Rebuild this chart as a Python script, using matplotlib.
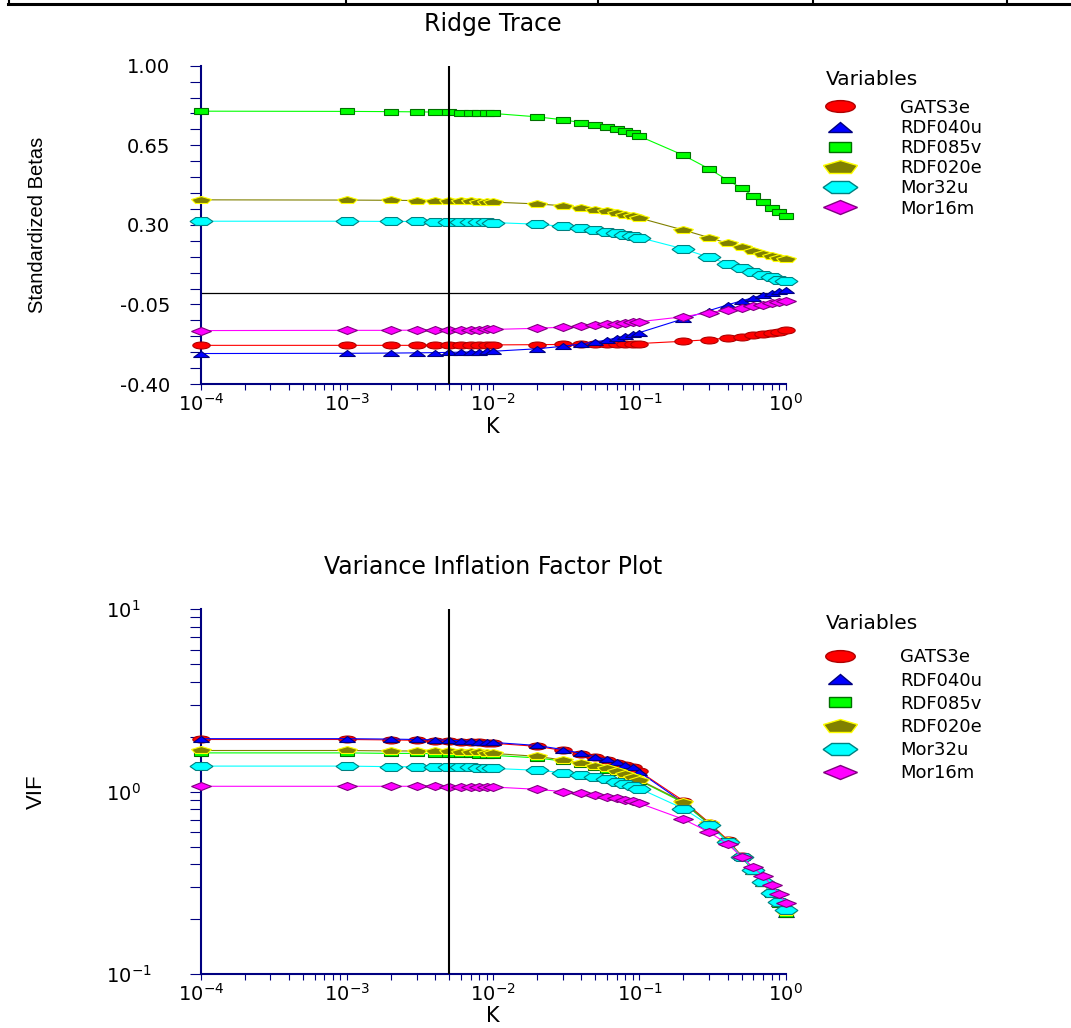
import matplotlib
matplotlib.use("Agg")
import matplotlib.pyplot as plt
from matplotlib.markers import MarkerStyle
from matplotlib.transforms import Affine2D
from matplotlib.lines import Line2D
from matplotlib.ticker import FixedLocator, LogLocator, NullFormatter

plt.rcParams['font.family'] = ['DejaVu Sans']

# Ridge parameter values
k = [0.0001, 0.001, 0.002, 0.003, 0.004, 0.005, 0.006, 0.007, 0.008, 0.009,
     0.01, 0.02, 0.03, 0.04, 0.05, 0.06, 0.07, 0.08, 0.09,
     0.1, 0.2, 0.3, 0.4, 0.5, 0.6, 0.7, 0.8, 0.9, 1.0]
k_chosen = 0.005

variables = ['GATS3e', 'RDF040u', 'RDF085v', 'RDF020e', 'Mor32u', 'Mor16m']

# Standardized betas
beta_gats3e = [-0.230, -0.230, -0.230, -0.230, -0.229, -0.229, -0.229, -0.229, -0.228, -0.228,
               -0.228, -0.227, -0.226, -0.225, -0.225, -0.224, -0.224, -0.223, -0.223,
               -0.222, -0.212, -0.205, -0.197, -0.192, -0.186, -0.180, -0.176, -0.170, -0.164]
beta_rdf040u = [-0.266, -0.265, -0.264, -0.263, -0.262, -0.261, -0.260, -0.259, -0.258, -0.257,
                -0.256, -0.245, -0.234, -0.224, -0.215, -0.206, -0.197, -0.189, -0.181,
                -0.174, -0.113, -0.077, -0.052, -0.034, -0.020, -0.008, 0.001, 0.008, 0.014]
beta_rdf085v = [0.800, 0.799, 0.798, 0.797, 0.796, 0.795, 0.794, 0.793, 0.792, 0.791,
                0.790, 0.775, 0.762, 0.750, 0.739, 0.729, 0.720, 0.711, 0.703,
                0.690, 0.606, 0.546, 0.497, 0.461, 0.427, 0.400, 0.376, 0.356, 0.339]
beta_rdf020e = [0.410, 0.409, 0.408, 0.407, 0.406, 0.405, 0.404, 0.403, 0.402, 0.401,
                0.400, 0.392, 0.384, 0.375, 0.367, 0.359, 0.352, 0.345, 0.338,
                0.330, 0.277, 0.244, 0.219, 0.201, 0.186, 0.173, 0.164, 0.156, 0.149]
beta_mor32u = [0.316, 0.316, 0.315, 0.315, 0.314, 0.314, 0.313, 0.313, 0.312, 0.311,
               0.310, 0.303, 0.293, 0.285, 0.277, 0.269, 0.262, 0.255, 0.250,
               0.244, 0.194, 0.157, 0.129, 0.109, 0.094, 0.081, 0.069, 0.059, 0.052]
beta_mor16m = [-0.165, -0.164, -0.164, -0.163, -0.163, -0.162, -0.162, -0.161, -0.161, -0.160,
               -0.160, -0.155, -0.150, -0.146, -0.142, -0.138, -0.135, -0.131, -0.128,
               -0.126, -0.104, -0.086, -0.074, -0.064, -0.057, -0.051, -0.045, -0.039, -0.033]

# Variance inflation factors
vif_gats3e = [1.93, 1.93, 1.92, 1.91, 1.90, 1.89, 1.88, 1.87, 1.86, 1.85,
              1.84, 1.77, 1.68, 1.61, 1.54, 1.49, 1.44, 1.40, 1.36,
              1.29, 0.89, 0.675, 0.545, 0.445, 0.375, 0.322, 0.283, 0.250, 0.222]
vif_rdf040u = [1.95, 1.95, 1.94, 1.93, 1.92, 1.91, 1.90, 1.89, 1.88, 1.87,
               1.86, 1.79, 1.70, 1.62, 1.55, 1.50, 1.45, 1.40, 1.36,
               1.28, 0.87, 0.665, 0.535, 0.440, 0.370, 0.318, 0.278, 0.245, 0.215]
vif_rdf085v = [1.63, 1.63, 1.62, 1.62, 1.61, 1.61, 1.60, 1.60, 1.59, 1.59,
               1.58, 1.53, 1.47, 1.41, 1.36, 1.32, 1.28, 1.24, 1.20,
               1.15, 0.87, 0.665, 0.535, 0.440, 0.370, 0.316, 0.275, 0.243, 0.215]
vif_rdf020e = [1.68, 1.68, 1.67, 1.67, 1.66, 1.66, 1.65, 1.65, 1.64, 1.63,
               1.62, 1.56, 1.49, 1.43, 1.38, 1.34, 1.29, 1.25, 1.21,
               1.16, 0.88, 0.670, 0.540, 0.440, 0.370, 0.318, 0.277, 0.245, 0.220]
vif_mor32u = [1.38, 1.38, 1.37, 1.37, 1.37, 1.36, 1.36, 1.36, 1.35, 1.35,
              1.34, 1.31, 1.27, 1.23, 1.20, 1.17, 1.13, 1.10, 1.07,
              1.04, 0.807, 0.655, 0.533, 0.440, 0.373, 0.320, 0.278, 0.248, 0.225]
vif_mor16m = [1.07, 1.07, 1.07, 1.07, 1.07, 1.06, 1.06, 1.06, 1.06, 1.06,
              1.06, 1.03, 1.00, 0.98, 0.955, 0.94, 0.92, 0.90, 0.886,
              0.864, 0.706, 0.600, 0.517, 0.440, 0.385, 0.345, 0.308, 0.276, 0.245]

betas = [beta_gats3e, beta_rdf040u, beta_rdf085v, beta_rdf020e, beta_mor32u, beta_mor16m]
vifs = [vif_gats3e, vif_rdf040u, vif_rdf085v, vif_rdf020e, vif_mor32u, vif_mor16m]

beta_ticks = [-0.40, -0.05, 0.30, 0.65, 1.00]
beta_tick_labels = ['-0.40', '-0.05', '0.30', '0.65', '1.00']

# Styles
marker_codes = ['o', '^', 's', 'p', 'H', 'D']
fill_colors = ['#ff0000', '#0000ff', '#00ff00', '#808000', '#00ffff', '#ff00ff']
edge_colors = ['#b00000', '#000080', '#007000', '#ffff00', '#008080', '#800080']
plot_sizes = [5.0, 4.8, 4.3, 6.0, 6.6, 4.1]
legend_sizes = [8.5, 7.0, 6.5, 10.3, 10.0, 7.1]
navy = '#000080'
label_font = ['Liberation Sans', 'DejaVu Sans']


def wide(m):
    return MarkerStyle(m, transform=Affine2D().scale(2.5, 1.0))


W, H = 1071, 1028
fig = plt.figure(figsize=(W / 100, H / 100), dpi=100)
ax1 = fig.add_axes([200.7 / W, 1 - 384 / H, 585 / W, 318.3 / H])
ax2 = fig.add_axes([200.7 / W, 1 - 974.3 / H, 585 / W, 365.3 / H])

for ax, series in ((ax1, betas), (ax2, vifs)):
    for i, vals in enumerate(series):
        ax.plot(k, vals, color=fill_colors[i], lw=0.8, marker=wide(marker_codes[i]),
                ms=plot_sizes[i], mfc=fill_colors[i], mec=edge_colors[i], mew=0.8,
                clip_on=False, zorder=3)
    ax.axvline(k_chosen, color='black', lw=1.5, zorder=5)
    ax.set_xscale('log')
    ax.set_xlim(1e-4, 1.0)
    ax.xaxis.set_major_locator(LogLocator(base=10, numticks=10))
    ax.xaxis.set_minor_locator(LogLocator(base=10, subs=(2, 3, 4, 5, 6, 7, 8, 9), numticks=20))
    ax.xaxis.set_minor_formatter(NullFormatter())
    for s in ('top', 'right'):
        ax.spines[s].set_visible(False)
    for s in ('left', 'bottom'):
        ax.spines[s].set_color(navy)
        ax.spines[s].set_linewidth(1.5)
    ax.tick_params(axis='x', which='both', direction='out', length=4.5, width=0.8,
                   color=navy, labelsize=14, pad=2)
    ax.tick_params(axis='y', which='both', direction='out', length=8, width=0.8,
                   color=navy, labelsize=14)
    ax.set_xlabel('K', fontsize=15)

handles = [Line2D([], [], ls='none', marker=wide(marker_codes[i]), ms=legend_sizes[i],
                  mfc=fill_colors[i], mec=edge_colors[i], mew=1.0)
           for i in range(len(variables))]

# Ridge trace
ax1.axhline(0, color='black', lw=0.9, zorder=1)
ax1.set_ylim(-0.40, 1.00)
ax1.set_yticks(beta_ticks, labels=beta_tick_labels)
ax1.yaxis.set_minor_locator(FixedLocator([-0.40 + 0.07 * i for i in range(21)]))
ax1.tick_params(axis='y', which='major', pad=14)
ax1.set_title('Ridge Trace', fontsize=17, pad=25)
ax1.set_ylabel('Standardized Betas', fontsize=14.5, family=label_font)
ax1.yaxis.set_label_coords(-0.263, 0.5)
ax1.xaxis.set_label_coords(0.5, -0.104)
leg1 = ax1.legend(handles, variables, title='Variables', loc='upper left',
                  bbox_to_anchor=(826 / W, 1 - 70 / H), bbox_transform=fig.transFigure,
                  frameon=False, borderpad=0, borderaxespad=0, handlelength=1.6,
                  handletextpad=2.5, labelspacing=0.12, fontsize=13, title_fontsize=14.5,
                  alignment='left', numpoints=1)
leg1._legend_box.sep = 7

# VIF plot
ax2.set_yscale('log')
ax2.set_ylim(0.1, 10)
ax2.yaxis.set_major_locator(LogLocator(base=10, numticks=10))
ax2.yaxis.set_minor_locator(LogLocator(base=10, subs=(2, 3, 4, 5, 6, 7, 8, 9), numticks=20))
ax2.yaxis.set_minor_formatter(NullFormatter())
ax2.tick_params(axis='y', which='major', pad=60)
ax2.set_title('Variance Inflation Factor Plot', fontsize=17, pad=25)
ax2.set_ylabel('VIF', fontsize=16, family=label_font)
ax2.yaxis.set_label_coords(-0.263, 0.5)
ax2.xaxis.set_label_coords(0.5, -0.088)
leg2 = ax2.legend(handles, variables, title='Variables', loc='upper left',
                  bbox_to_anchor=(826 / W, 1 - 614 / H), bbox_transform=fig.transFigure,
                  frameon=False, borderpad=0, borderaxespad=0, handlelength=1.6,
                  handletextpad=2.5, labelspacing=0.29, fontsize=13, title_fontsize=14.5,
                  alignment='left', numpoints=1)
leg2._legend_box.sep = 11
fig.canvas.draw()
for lab in ax2.get_yticklabels():
    lab.set_horizontalalignment('left')

# Table border remnant along the top edge
fig.add_artist(Line2D([8 / W, 1.0], [1 - 3.8 / H] * 2, transform=fig.transFigure,
                      color='black', lw=2.2))
for xp in (9, 346, 598, 813, 1007):
    fig.add_artist(Line2D([xp / W] * 2, [1.0, 1 - 3.8 / H], transform=fig.transFigure,
                          color='black', lw=1.5))

fig.savefig('out.png', dpi=100)
